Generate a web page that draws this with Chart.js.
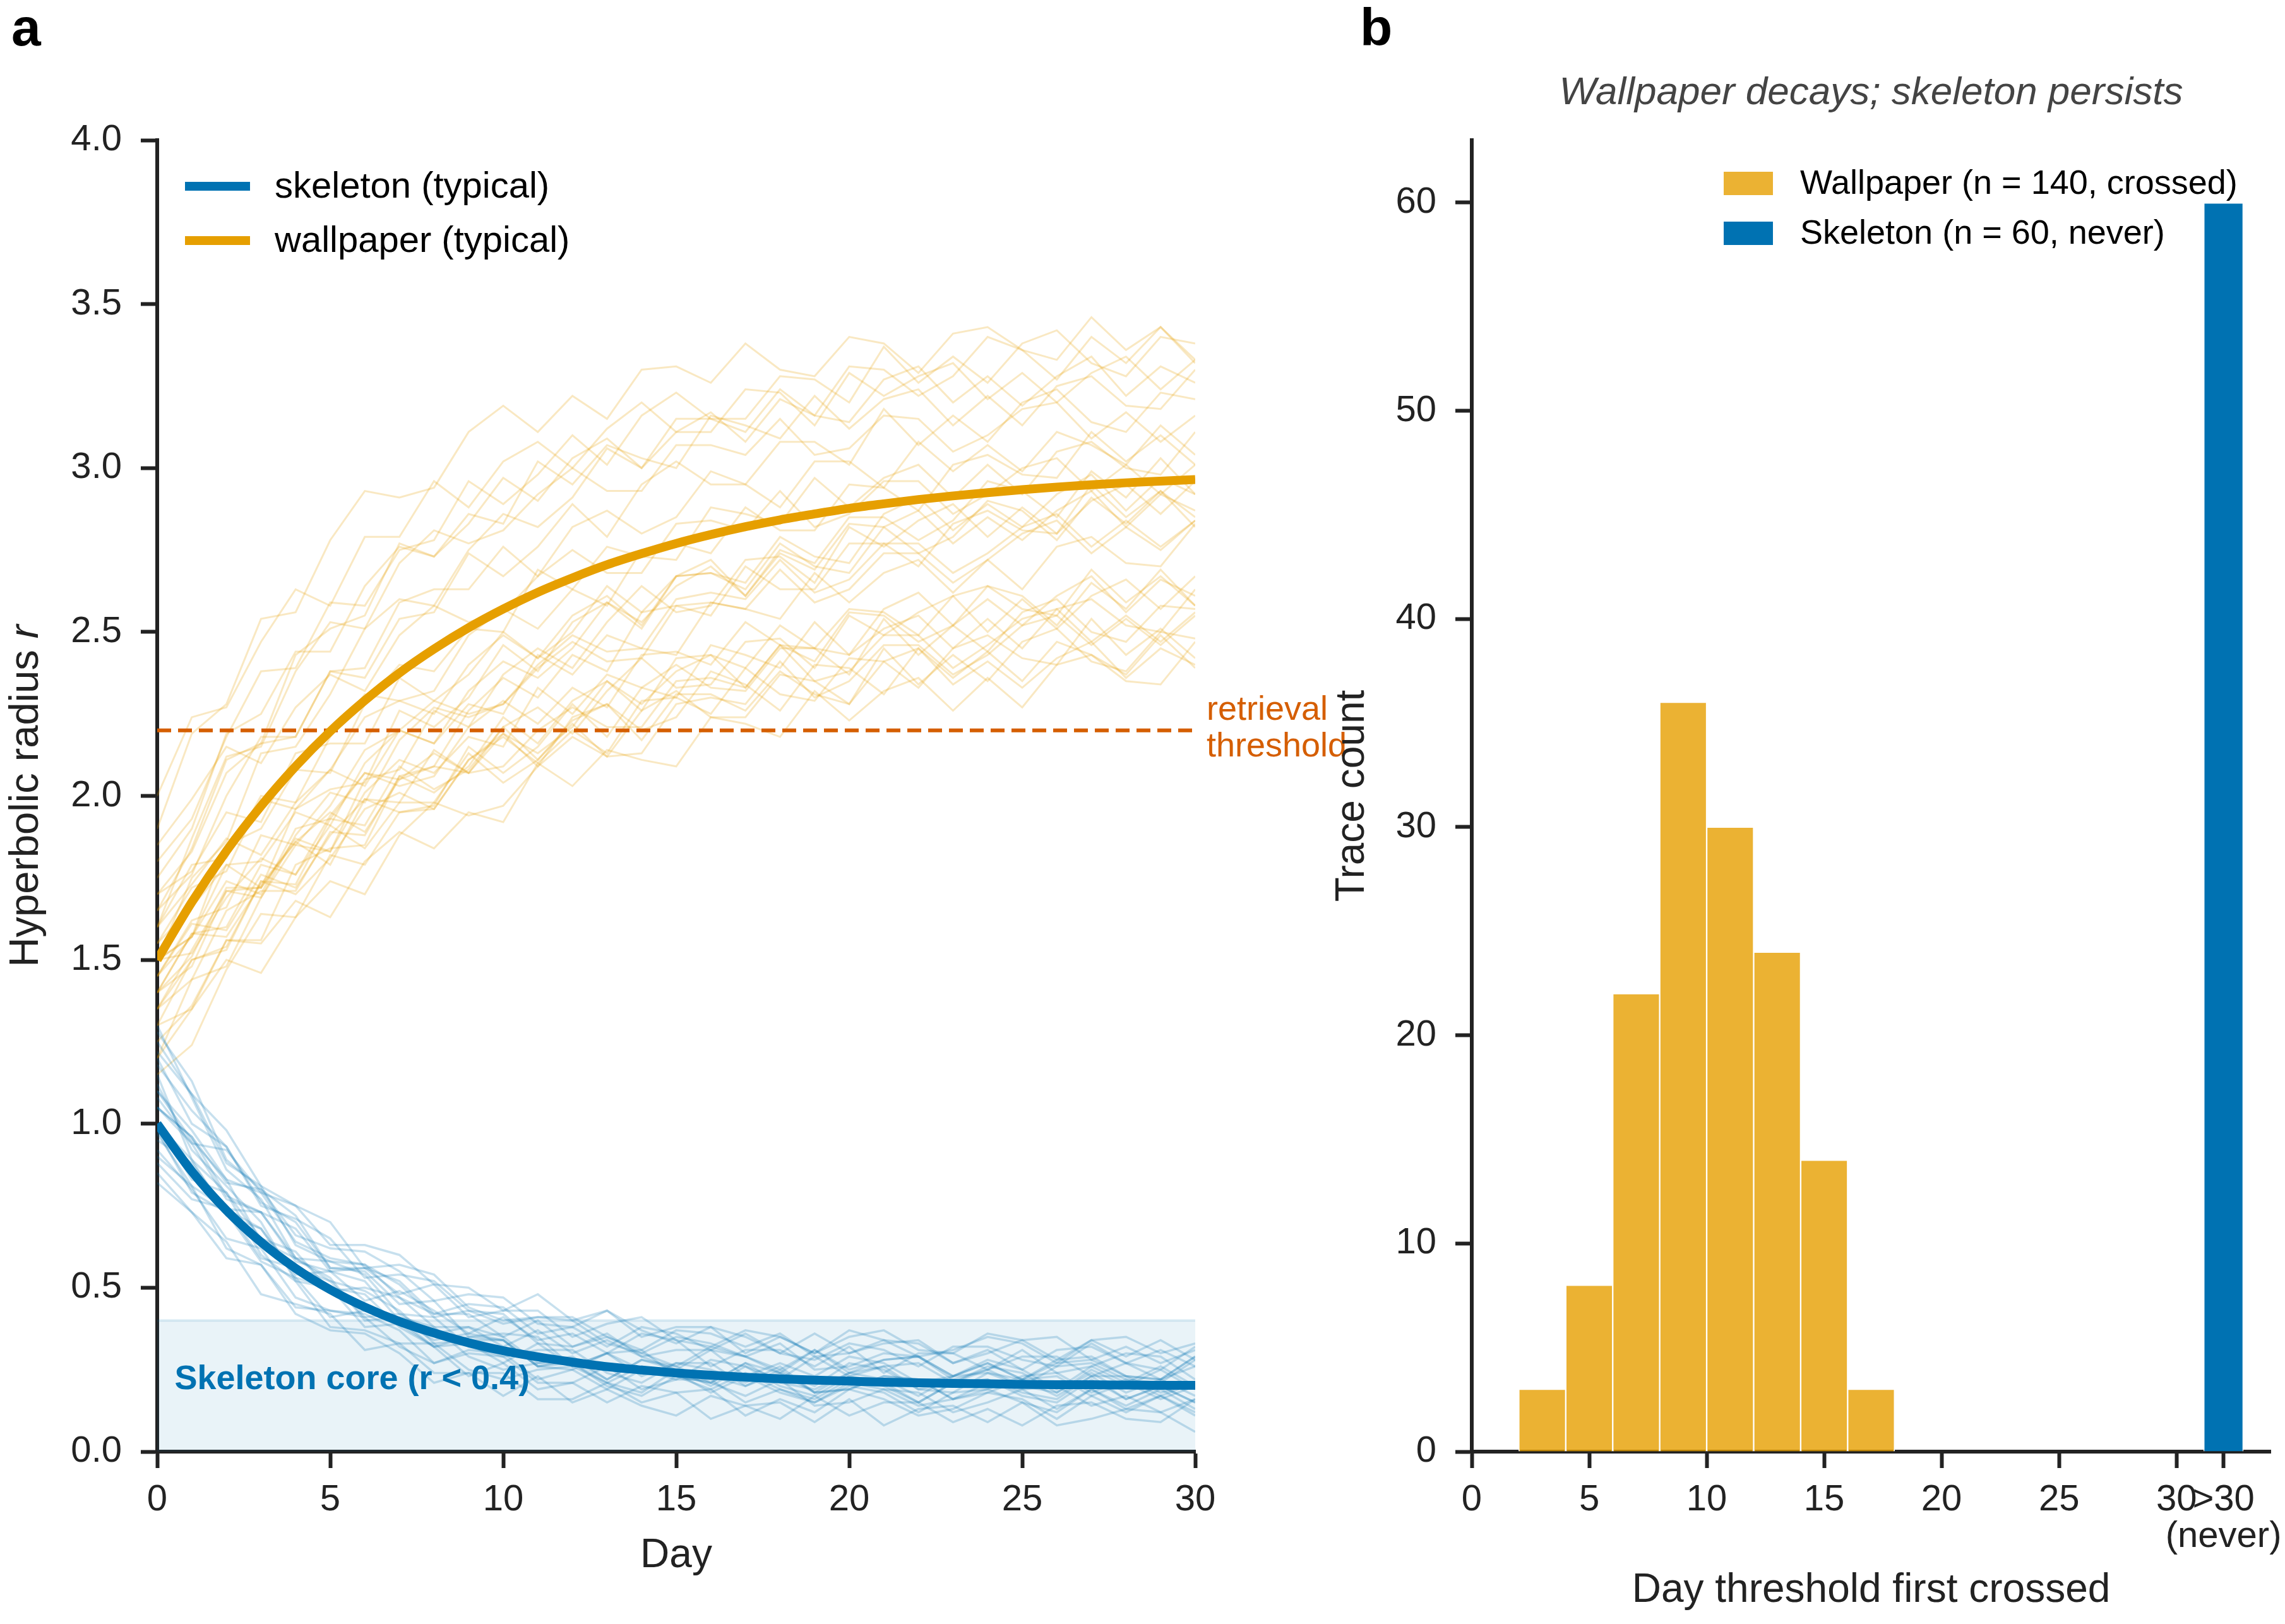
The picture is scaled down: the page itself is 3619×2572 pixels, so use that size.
<!DOCTYPE html>
<html><head><meta charset="utf-8">
<script src="https://cdn.jsdelivr.net/npm/chart.js@4.4.1/dist/chart.umd.min.js"></script>
<style>
html,body{margin:0;padding:0;background:#fff;}
#wrap{position:relative;width:3619px;height:2572px;overflow:hidden;background:#fff;}
#cA{position:absolute;left:0;top:0;}
#cB{position:absolute;left:2050px;top:0;}
</style></head><body>
<div id="wrap"><canvas id="cA" width="2200" height="2572"></canvas><canvas id="cB" width="1569" height="2572"></canvas></div>
<script>
// ---------------- DATA ----------------
const days = [0,1,2,3,4,5,6,7,8,9,10,11,12,13,14,15,16,17,18,19,20,21,22,23,24,25,26,27,28,29,30];
const wallpaperTypical = [1.500,1.676,1.832,1.969,2.090,2.197,2.291,2.375,2.448,2.513,2.570,2.621,2.665,2.705,2.739,2.770,2.797,2.821,2.842,2.860,2.877,2.891,2.904,2.915,2.925,2.934,2.942,2.949,2.955,2.960,2.965];
const skeletonTypical = [1.000,0.855,0.736,0.639,0.559,0.494,0.441,0.397,0.362,0.332,0.308,0.289,0.273,0.259,0.249,0.240,0.233,0.227,0.222,0.218,0.215,0.212,0.210,0.208,0.207,0.205,0.204,0.204,0.203,0.202,0.202];
const wallpaperTraces = [
 [1.90,2.19,2.28,2.54,2.56,2.78,2.93,2.91,2.94,3.11,3.19,3.11,3.22,3.15,3.30,3.31,3.26,3.38,3.30,3.28,3.40,3.38,3.29,3.41,3.43,3.36,3.33,3.46,3.36,3.43,3.33],
 [1.75,1.90,2.19,2.25,2.44,2.44,2.64,2.76,2.73,2.86,2.83,3.02,2.95,3.07,3.03,3.00,3.16,3.13,3.09,3.22,3.12,3.21,3.24,3.13,3.22,3.13,3.25,3.28,3.19,3.18,3.30],
 [1.60,1.87,2.12,2.15,2.38,2.53,2.51,2.71,2.81,2.77,2.81,2.92,3.00,2.93,2.93,3.07,3.07,3.04,3.15,3.04,3.06,3.16,3.15,3.05,3.10,3.18,3.20,3.09,3.17,3.08,3.16],
 [1.50,1.75,1.86,2.13,2.15,2.31,2.51,2.60,2.58,2.75,2.86,2.82,2.91,3.06,3.00,3.11,3.17,3.08,3.21,3.16,3.31,3.30,3.22,3.28,3.40,3.36,3.27,3.40,3.32,3.43,3.32],
 [1.65,1.84,2.11,2.16,2.43,2.51,2.55,2.77,2.73,2.83,2.97,2.90,3.03,3.09,3.00,3.15,3.15,3.11,3.24,3.16,3.14,3.27,3.31,3.20,3.28,3.19,3.28,3.34,3.22,3.31,3.26],
 [1.45,1.57,1.85,1.90,2.08,2.07,2.28,2.40,2.38,2.51,2.50,2.69,2.63,2.76,2.73,2.72,2.88,2.86,2.83,2.97,2.88,2.97,3.01,2.91,3.01,2.92,3.05,3.08,3.00,2.98,3.11],
 [1.55,1.72,1.77,1.99,1.96,2.08,2.24,2.29,2.25,2.40,2.49,2.42,2.50,2.64,2.56,2.67,2.72,2.61,2.74,2.69,2.83,2.82,2.74,2.79,2.90,2.87,2.78,2.91,2.83,2.93,2.82],
 [1.40,1.51,1.72,1.72,1.96,2.02,2.04,2.26,2.21,2.30,2.46,2.38,2.53,2.59,2.51,2.67,2.68,2.65,2.79,2.73,2.71,2.86,2.91,2.81,2.89,2.82,2.92,2.98,2.87,2.97,2.92],
 [1.60,1.79,1.81,2.00,1.98,2.18,2.31,2.29,2.32,2.49,2.57,2.51,2.63,2.58,2.75,2.77,2.74,2.88,2.81,2.81,2.95,2.94,2.87,3.01,3.04,2.98,2.97,3.11,3.02,3.10,3.01],
 [1.35,1.53,1.71,1.69,1.88,2.01,1.98,2.17,2.27,2.24,2.28,2.40,2.49,2.44,2.45,2.60,2.62,2.60,2.72,2.62,2.66,2.77,2.77,2.68,2.74,2.82,2.86,2.76,2.84,2.76,2.84],
 [1.50,1.57,1.79,1.80,1.95,1.91,2.10,2.20,2.16,2.28,2.25,2.43,2.37,2.49,2.45,2.43,2.59,2.57,2.54,2.68,2.59,2.68,2.72,2.62,2.72,2.63,2.76,2.79,2.71,2.70,2.83],
 [1.70,1.77,1.95,1.92,2.13,2.16,2.16,2.36,2.29,2.37,2.50,2.42,2.55,2.61,2.52,2.67,2.68,2.63,2.77,2.70,2.68,2.82,2.87,2.77,2.85,2.78,2.87,2.93,2.82,2.92,2.87],
 [1.45,1.62,1.66,1.88,1.85,1.97,2.14,2.20,2.16,2.32,2.41,2.36,2.45,2.59,2.53,2.64,2.70,2.61,2.75,2.71,2.85,2.85,2.78,2.84,2.96,2.93,2.85,2.99,2.91,3.03,2.92],
 [1.30,1.50,1.53,1.74,1.73,1.93,2.07,2.05,2.09,2.26,2.36,2.30,2.43,2.38,2.56,2.58,2.55,2.70,2.63,2.63,2.77,2.77,2.70,2.83,2.87,2.81,2.80,2.95,2.85,2.93,2.85],
 [1.60,1.73,1.87,1.82,1.98,2.08,2.03,2.20,2.29,2.25,2.28,2.39,2.47,2.41,2.42,2.58,2.59,2.57,2.69,2.59,2.63,2.74,2.74,2.65,2.72,2.80,2.84,2.74,2.82,2.75,2.84],
 [1.40,1.48,1.71,1.72,1.87,1.83,2.01,2.11,2.07,2.18,2.15,2.33,2.25,2.37,2.33,2.30,2.46,2.43,2.39,2.53,2.43,2.51,2.55,2.45,2.54,2.45,2.57,2.60,2.52,2.50,2.63],
 [1.25,1.36,1.56,1.56,1.79,1.84,1.85,2.06,2.01,2.09,2.24,2.16,2.29,2.35,2.26,2.42,2.43,2.39,2.52,2.45,2.43,2.57,2.62,2.52,2.60,2.52,2.61,2.67,2.56,2.66,2.61],
 [1.45,1.61,1.59,1.76,1.72,1.88,1.99,1.95,1.96,2.11,2.18,2.10,2.20,2.13,2.29,2.30,2.25,2.39,2.31,2.29,2.42,2.41,2.33,2.45,2.49,2.42,2.40,2.54,2.43,2.51,2.42],
 [1.20,1.35,1.50,1.46,1.63,1.74,1.70,1.88,1.98,1.94,1.97,2.09,2.18,2.12,2.13,2.28,2.30,2.28,2.41,2.30,2.35,2.46,2.46,2.37,2.43,2.52,2.55,2.46,2.54,2.46,2.55],
 [1.35,1.50,1.54,1.74,1.70,1.81,1.96,2.01,1.96,2.11,2.19,2.13,2.21,2.35,2.28,2.38,2.43,2.33,2.46,2.41,2.56,2.55,2.47,2.52,2.64,2.61,2.52,2.65,2.57,2.69,2.58],
 [1.50,1.57,1.74,1.70,1.90,1.93,1.91,2.09,2.02,2.08,2.21,2.11,2.23,2.28,2.17,2.31,2.31,2.26,2.38,2.31,2.28,2.41,2.45,2.34,2.41,2.33,2.42,2.47,2.36,2.45,2.40],
 [1.30,1.35,1.56,1.55,1.68,1.63,1.80,1.89,1.84,1.95,1.92,2.10,2.03,2.14,2.11,2.09,2.24,2.22,2.18,2.32,2.23,2.32,2.36,2.26,2.36,2.27,2.40,2.43,2.35,2.34,2.47],
 [1.40,1.58,1.60,1.79,1.76,1.94,2.07,2.03,2.06,2.21,2.29,2.22,2.33,2.27,2.43,2.44,2.40,2.53,2.46,2.45,2.57,2.56,2.49,2.61,2.64,2.57,2.55,2.69,2.59,2.67,2.58],
 [1.55,1.66,1.79,1.72,1.86,1.95,1.89,2.05,2.13,2.07,2.09,2.20,2.27,2.21,2.21,2.35,2.36,2.33,2.46,2.35,2.38,2.49,2.49,2.39,2.46,2.54,2.57,2.47,2.55,2.47,2.56],
 [2.00,2.24,2.27,2.47,2.63,2.58,2.79,2.79,2.96,2.88,3.02,3.08,3.00,3.12,3.20,3.11,3.11,3.24,3.23,3.13,3.29,3.22,3.28,3.32,3.21,3.29,3.20,3.29,3.34,3.24,3.33],
 [1.80,1.93,2.18,2.38,2.39,2.59,2.58,2.75,2.78,2.96,2.89,2.98,3.10,3.01,3.16,3.23,3.15,3.15,3.28,3.27,3.20,3.37,3.26,3.34,3.26,3.38,3.42,3.32,3.28,3.40,3.38],
 [1.20,1.44,1.48,1.69,1.85,1.83,2.05,2.08,2.26,2.21,2.37,2.45,2.39,2.53,2.64,2.56,2.58,2.72,2.73,2.65,2.82,2.76,2.84,2.89,2.79,2.88,2.80,2.90,2.95,2.86,2.96],
 [1.65,1.76,2.00,2.18,2.18,2.38,2.36,2.54,2.56,2.74,2.67,2.76,2.89,2.79,2.95,3.02,2.95,2.95,3.08,3.08,3.01,3.18,3.07,3.16,3.08,3.20,3.24,3.14,3.11,3.23,3.21],
 [1.40,1.58,1.57,1.73,1.86,1.79,1.99,1.98,2.14,2.07,2.21,2.27,2.19,2.32,2.42,2.33,2.34,2.47,2.48,2.39,2.55,2.49,2.56,2.61,2.50,2.60,2.51,2.61,2.66,2.57,2.67],
 [1.15,1.24,1.47,1.64,1.63,1.82,1.79,1.95,1.97,2.15,2.07,2.15,2.28,2.18,2.33,2.40,2.33,2.32,2.45,2.45,2.37,2.54,2.43,2.52,2.44,2.56,2.60,2.50,2.47,2.58,2.57],
 [1.70,1.83,2.07,2.16,2.18,2.38,2.39,2.59,2.63,2.63,2.76,2.67,2.82,2.87,2.80,2.85,2.99,2.95,2.88,3.02,3.02,2.94,3.08,2.99,3.07,2.99,3.11,3.07,3.01,3.13,3.04],
 [1.35,1.44,1.65,1.71,1.71,1.89,1.88,2.06,2.09,2.07,2.19,2.09,2.24,2.28,2.20,2.24,2.38,2.34,2.26,2.40,2.39,2.31,2.45,2.36,2.44,2.35,2.47,2.43,2.37,2.49,2.39],
 [1.85,1.99,2.15,2.10,2.27,2.37,2.32,2.49,2.58,2.53,2.56,2.67,2.75,2.68,2.68,2.83,2.84,2.81,2.93,2.82,2.86,2.96,2.96,2.86,2.92,3.00,3.03,2.93,3.01,2.92,3.01],
 [1.50,1.52,1.69,1.81,1.76,1.91,1.84,1.98,1.98,2.13,2.04,2.11,2.22,2.12,2.26,2.32,2.24,2.24,2.37,2.35,2.28,2.45,2.34,2.43,2.35,2.47,2.51,2.41,2.38,2.50,2.48]
];
const skeletonTraces = [
 [1.00,0.89,0.72,0.68,0.53,0.50,0.48,0.38,0.32,0.35,0.34,0.26,0.28,0.22,0.28,0.26,0.21,0.27,0.21,0.19,0.24,0.22,0.17,0.23,0.24,0.20,0.18,0.24,0.18,0.22,0.17],
 [1.20,1.00,0.93,0.76,0.70,0.56,0.56,0.52,0.42,0.42,0.35,0.40,0.32,0.35,0.30,0.26,0.32,0.29,0.25,0.31,0.25,0.28,0.29,0.23,0.27,0.22,0.28,0.29,0.23,0.22,0.29],
 [0.90,0.81,0.74,0.59,0.56,0.52,0.41,0.42,0.41,0.32,0.29,0.31,0.31,0.24,0.21,0.27,0.25,0.21,0.26,0.18,0.19,0.23,0.22,0.16,0.18,0.22,0.23,0.17,0.21,0.16,0.20],
 [1.30,1.08,0.86,0.77,0.59,0.52,0.49,0.43,0.33,0.34,0.34,0.26,0.25,0.30,0.23,0.27,0.27,0.20,0.24,0.20,0.27,0.25,0.19,0.21,0.26,0.24,0.18,0.25,0.20,0.25,0.19],
 [1.10,0.95,0.83,0.64,0.59,0.53,0.40,0.41,0.38,0.29,0.25,0.27,0.27,0.20,0.17,0.23,0.21,0.17,0.22,0.14,0.15,0.19,0.18,0.12,0.15,0.19,0.20,0.14,0.17,0.12,0.16],
 [0.95,0.88,0.74,0.73,0.59,0.58,0.57,0.47,0.42,0.45,0.44,0.36,0.38,0.32,0.38,0.36,0.31,0.36,0.30,0.28,0.33,0.31,0.26,0.32,0.32,0.28,0.26,0.33,0.27,0.31,0.26],
 [1.15,0.89,0.79,0.60,0.52,0.38,0.37,0.33,0.24,0.24,0.17,0.23,0.15,0.19,0.14,0.11,0.17,0.14,0.10,0.17,0.11,0.15,0.15,0.09,0.13,0.08,0.14,0.15,0.10,0.09,0.16],
 [1.05,0.96,0.82,0.80,0.66,0.62,0.61,0.55,0.46,0.48,0.47,0.39,0.38,0.43,0.35,0.38,0.38,0.30,0.35,0.30,0.37,0.34,0.29,0.31,0.35,0.33,0.27,0.34,0.29,0.34,0.28],
 [0.85,0.73,0.64,0.48,0.45,0.42,0.31,0.33,0.33,0.25,0.22,0.25,0.26,0.21,0.18,0.25,0.23,0.20,0.25,0.18,0.19,0.23,0.22,0.16,0.19,0.23,0.24,0.18,0.22,0.17,0.21],
 [1.25,1.09,0.88,0.81,0.63,0.58,0.54,0.42,0.36,0.38,0.35,0.27,0.29,0.22,0.28,0.25,0.20,0.26,0.20,0.17,0.23,0.21,0.15,0.21,0.22,0.18,0.16,0.23,0.16,0.20,0.15],
 [1.00,0.83,0.79,0.65,0.61,0.49,0.50,0.47,0.38,0.38,0.32,0.37,0.30,0.34,0.29,0.25,0.31,0.29,0.24,0.31,0.24,0.28,0.29,0.23,0.27,0.22,0.27,0.28,0.23,0.22,0.29],
 [1.10,0.98,0.83,0.79,0.64,0.59,0.57,0.51,0.41,0.43,0.42,0.33,0.32,0.36,0.29,0.31,0.31,0.23,0.27,0.23,0.29,0.27,0.21,0.23,0.28,0.25,0.19,0.26,0.21,0.26,0.20],
 [0.92,0.80,0.65,0.62,0.47,0.43,0.42,0.37,0.27,0.30,0.29,0.21,0.21,0.26,0.19,0.22,0.22,0.15,0.19,0.15,0.21,0.19,0.14,0.16,0.21,0.19,0.13,0.19,0.14,0.19,0.13],
 [1.18,1.04,0.93,0.75,0.71,0.65,0.53,0.54,0.52,0.43,0.39,0.41,0.41,0.35,0.31,0.37,0.36,0.32,0.36,0.29,0.30,0.34,0.33,0.27,0.30,0.34,0.35,0.28,0.32,0.27,0.31],
 [1.05,0.94,0.77,0.73,0.58,0.55,0.52,0.40,0.34,0.36,0.34,0.26,0.27,0.21,0.26,0.24,0.18,0.23,0.18,0.15,0.20,0.18,0.12,0.18,0.19,0.15,0.12,0.19,0.13,0.17,0.12],
 [0.98,0.79,0.73,0.58,0.53,0.41,0.43,0.40,0.32,0.33,0.27,0.33,0.26,0.30,0.25,0.22,0.28,0.26,0.22,0.29,0.23,0.26,0.27,0.21,0.25,0.20,0.26,0.27,0.22,0.21,0.28],
 [1.28,1.13,0.89,0.80,0.72,0.56,0.55,0.45,0.46,0.35,0.36,0.35,0.26,0.30,0.31,0.23,0.21,0.27,0.24,0.18,0.24,0.26,0.19,0.18,0.24,0.22,0.17,0.23,0.23,0.18,0.21],
 [0.88,0.77,0.74,0.68,0.54,0.55,0.46,0.49,0.43,0.36,0.41,0.34,0.36,0.30,0.36,0.34,0.26,0.31,0.31,0.26,0.32,0.24,0.30,0.30,0.25,0.31,0.24,0.26,0.30,0.29,0.22],
 [1.12,0.92,0.81,0.70,0.52,0.50,0.38,0.39,0.32,0.23,0.27,0.19,0.21,0.15,0.20,0.18,0.10,0.14,0.15,0.09,0.16,0.08,0.13,0.14,0.09,0.15,0.08,0.10,0.13,0.12,0.06],
 [1.05,0.96,0.78,0.73,0.68,0.55,0.56,0.48,0.51,0.41,0.43,0.43,0.35,0.39,0.41,0.34,0.32,0.37,0.35,0.30,0.35,0.37,0.31,0.30,0.36,0.34,0.28,0.34,0.35,0.30,0.33],
 [0.82,0.73,0.59,0.57,0.44,0.43,0.41,0.32,0.27,0.31,0.30,0.22,0.25,0.19,0.25,0.23,0.19,0.24,0.19,0.16,0.22,0.20,0.15,0.21,0.22,0.17,0.15,0.22,0.16,0.20,0.15],
 [1.22,1.09,0.98,0.81,0.75,0.70,0.56,0.57,0.54,0.44,0.40,0.41,0.40,0.33,0.30,0.35,0.33,0.29,0.33,0.25,0.26,0.30,0.29,0.22,0.25,0.29,0.29,0.23,0.27,0.22,0.26],
 [0.97,0.81,0.62,0.57,0.42,0.37,0.36,0.30,0.21,0.24,0.24,0.16,0.16,0.21,0.15,0.18,0.19,0.11,0.16,0.12,0.19,0.16,0.11,0.13,0.18,0.16,0.10,0.17,0.12,0.17,0.11],
 [1.08,0.94,0.92,0.79,0.75,0.63,0.63,0.60,0.51,0.50,0.43,0.48,0.40,0.43,0.37,0.33,0.38,0.35,0.30,0.36,0.30,0.33,0.34,0.27,0.31,0.25,0.31,0.32,0.27,0.25,0.32]
];
const retrievalThreshold = 2.2;
const skeletonCoreRadius = 0.4;
const leftXTicks = [0,5,10,15,20,25,30];
const leftYTicks = [0,0.5,1,1.5,2,2.5,3,3.5,4];
const legendLeftLabels = ['skeleton (typical)','wallpaper (typical)'];

const binCenters = [3,5,7,9,11,13,15,17];
const wallpaperCounts = [3,8,22,36,30,24,14,3];
const neverPosition = [32];
const skeletonCounts = [60];
const rightXTicks = [0,5,10,15,20,25,30,32];
const rightXTickLabels = ['0','5','10','15','20','25','30',['>30','(never)']];
const rightYTicks = [0,10,20,30,40,50,60];
const legendRightLabels = ['Wallpaper (n = 140, crossed)','Skeleton (n = 60, never)'];

// ---------------- STYLE ----------------
const FONT = "'Liberation Sans', Arial, Helvetica, sans-serif";
const INK = '#222222';
const BLUE = '#0072B2', ORANGE = '#E69F00', VERM = '#D55E00';
const WP_BAR = 'rgba(230,159,0,0.8)';
Chart.defaults.font.family = FONT;
Chart.defaults.color = INK;

function pts(arr){ return arr.map((v,i)=>({x: days[i], y: v})); }
function noOverflow(s){ s.paddingLeft = 0; s.paddingRight = 0; s.paddingTop = 0; s.paddingBottom = 0; }
function axisBase(){
  return {
    grid:{display:true, offset:false, drawOnChartArea:false, drawTicks:true, tickLength:26, tickWidth:6, tickColor:INK},
    border:{display:true, color:INK, width:6}
  };
}

// ---------------- LEFT PANEL ----------------
const leftDatasets = [];
leftDatasets.push({label:'core', data:[{x:days[0],y:skeletonCoreRadius},{x:days[days.length-1],y:skeletonCoreRadius}],
  borderColor:'rgba(0,114,178,0.13)', borderWidth:4, backgroundColor:'rgba(0,114,178,0.085)', fill:'origin', pointRadius:0, order:100});
wallpaperTraces.forEach(t=>leftDatasets.push({data:pts(t), borderColor:'rgba(230,159,0,0.24)', borderWidth:3, pointRadius:0, tension:0, fill:false, order:60}));
skeletonTraces.forEach(t=>leftDatasets.push({data:pts(t), borderColor:'rgba(0,114,178,0.22)', borderWidth:3.5, pointRadius:0, tension:0, fill:false, order:50}));
leftDatasets.push({label:'threshold', data:[{x:days[0],y:retrievalThreshold},{x:days[days.length-1],y:retrievalThreshold}],
  borderColor:VERM, borderWidth:6, borderDash:[22,11], pointRadius:0, fill:false, order:30});
leftDatasets.push({label:legendLeftLabels[1], data:pts(wallpaperTypical), borderColor:ORANGE, borderWidth:14, pointRadius:0, cubicInterpolationMode:'monotone', fill:false, order:20});
leftDatasets.push({label:legendLeftLabels[0], data:pts(skeletonTypical), borderColor:BLUE, borderWidth:14, pointRadius:0, cubicInterpolationMode:'monotone', fill:false, order:10});

const leftDecor = {
  id:'leftDecor',
  afterDraw(chart){
    const ctx = chart.ctx, a = chart.chartArea, xs = chart.scales.x, ys = chart.scales.y;
    ctx.save();
    ctx.fillStyle = '#000'; ctx.font = 'bold 84px ' + FONT; ctx.textAlign = 'left'; ctx.textBaseline = 'alphabetic';
    ctx.fillText('a', 18, 72);
    ctx.save();
    ctx.translate(42, (a.top + a.bottom)/2); ctx.rotate(-Math.PI/2);
    const f1 = '65px ' + FONT, f2 = 'italic 65px ' + FONT;
    ctx.font = f1; const w1 = ctx.measureText('Hyperbolic radius ').width;
    ctx.font = f2; const w2 = ctx.measureText('r').width;
    const x0 = -(w1 + w2)/2;
    ctx.fillStyle = INK; ctx.textBaseline = 'middle'; ctx.textAlign = 'left';
    ctx.font = f1; ctx.fillText('Hyperbolic radius ', x0, 0);
    ctx.font = f2; ctx.fillText('r', x0 + w1, 0);
    ctx.restore();
    ctx.fillStyle = VERM; ctx.font = '54px ' + FONT; ctx.textBaseline = 'middle'; ctx.textAlign = 'left';
    const tx = xs.getPixelForValue(days[days.length-1]) + 18, ty = ys.getPixelForValue(retrievalThreshold);
    ctx.fillText('retrieval', tx, ty - 32);
    ctx.fillText('threshold', tx, ty + 26);
    ctx.fillStyle = BLUE; ctx.font = 'bold 54px ' + FONT;
    ctx.fillText('Skeleton core (r < 0.4)', xs.getPixelForValue(0.5), ys.getPixelForValue(0.22));
    const cols = [BLUE, ORANGE];
    const rowsY = [a.top + 73, a.top + 159];
    ctx.lineCap = 'butt';
    for (let i = 0; i < 2; i++){
      ctx.strokeStyle = cols[i]; ctx.lineWidth = 14;
      ctx.beginPath(); ctx.moveTo(a.left + 44, rowsY[i]); ctx.lineTo(a.left + 147, rowsY[i]); ctx.stroke();
      ctx.fillStyle = '#000'; ctx.font = '58px ' + FONT; ctx.textBaseline = 'middle';
      ctx.fillText(legendLeftLabels[i], a.left + 186, rowsY[i] + 2);
    }
    ctx.restore();
  }
};

new Chart(document.getElementById('cA'), {
  type:'line',
  data:{datasets:leftDatasets},
  options:{
    responsive:false, animation:false, devicePixelRatio:1, events:[],
    layout:{padding:{left:4, right:307, top:222, bottom:69}},
    plugins:{legend:{display:false}, tooltip:{enabled:false}},
    scales:{
      x:Object.assign(axisBase(), {
        type:'linear', min:0, max:30, offset:false,
        afterBuildTicks:s=>{ s.ticks = leftXTicks.map(v=>({value:v})); },
        afterFit:s=>{ s.height = 204; noOverflow(s); },
        ticks:{font:{size:58, lineHeight:1.0}, color:INK, padding:22, maxRotation:0, autoSkip:false, callback:v=>String(v)},
        title:{display:true, text:'Day', font:{size:64}, color:INK, padding:0}
      }),
      y:Object.assign(axisBase(), {
        type:'linear', min:0, max:4,
        afterBuildTicks:s=>{ s.ticks = leftYTicks.map(v=>({value:v})); },
        afterFit:s=>{ s.width = 245; noOverflow(s); },
        ticks:{font:{size:58}, color:INK, padding:30, callback:v=>Number(v).toFixed(1)},
        title:{display:false}
      })
    }
  },
  plugins:[leftDecor]
});

// ---------------- RIGHT PANEL ----------------
const rightDecor = {
  id:'rightDecor',
  afterDraw(chart){
    const ctx = chart.ctx, a = chart.chartArea;
    ctx.save();
    ctx.fillStyle = '#000'; ctx.font = 'bold 84px ' + FONT; ctx.textAlign = 'left'; ctx.textBaseline = 'alphabetic';
    ctx.fillText('b', 104, 72);
    ctx.fillStyle = '#444444'; ctx.font = 'italic 62px ' + FONT; ctx.textAlign = 'center'; ctx.textBaseline = 'middle';
    ctx.fillText('Wallpaper decays; skeleton persists', (a.left + a.right)/2, 148);
    const cols = [WP_BAR, BLUE];
    const rowsY = [a.top + 68, a.top + 147];
    ctx.textAlign = 'left';
    for (let i = 0; i < 2; i++){
      ctx.fillStyle = cols[i];
      ctx.fillRect(a.left + 399, rowsY[i] - 18, 78, 37);
      ctx.fillStyle = '#000'; ctx.font = '54px ' + FONT; ctx.textBaseline = 'middle';
      ctx.fillText(legendRightLabels[i], a.left + 520, rowsY[i] + 2);
    }
    ctx.restore();
  }
};

new Chart(document.getElementById('cB'), {
  type:'bar',
  data:{datasets:[
    {label:legendRightLabels[0], data:binCenters.map((c,i)=>({x:c, y:wallpaperCounts[i]})),
      backgroundColor:WP_BAR, borderColor:'#ffffff', borderWidth:1.5, barPercentage:1, categoryPercentage:1, grouped:false},
    {label:legendRightLabels[1], data:neverPosition.map((c,i)=>({x:c, y:skeletonCounts[i]})),
      backgroundColor:BLUE, borderColor:'#ffffff', borderWidth:1.5, barPercentage:0.85, categoryPercentage:1, grouped:false}
  ]},
  options:{
    responsive:false, animation:false, devicePixelRatio:1, events:[],
    layout:{padding:{left:54, right:23, top:222, bottom:14}},
    plugins:{legend:{display:false}, tooltip:{enabled:false}},
    scales:{
      x:Object.assign(axisBase(), {
        type:'linear', min:0, max:34, offset:false,
        afterBuildTicks:s=>{ s.ticks = rightXTicks.map(v=>({value:v})); },
        afterFit:s=>{ s.height = 259; noOverflow(s); },
        ticks:{font:{size:58, lineHeight:1.0}, color:INK, padding:22, maxRotation:0, autoSkip:false,
          callback:(v,i)=>rightXTickLabels[i]},
        title:{display:true, text:'Day threshold first crossed', font:{size:64}, color:INK, padding:0}
      }),
      y:Object.assign(axisBase(), {
        type:'linear', min:0, max:63,
        afterBuildTicks:s=>{ s.ticks = rightYTicks.map(v=>({value:v})); },
        afterFit:s=>{ s.width = 227; noOverflow(s); },
        ticks:{font:{size:58}, color:INK, padding:30, callback:v=>String(v)},
        title:{display:true, text:'Trace count', font:{size:64}, color:INK, padding:0}
      })
    }
  },
  plugins:[rightDecor]
});
</script>
</body></html>
